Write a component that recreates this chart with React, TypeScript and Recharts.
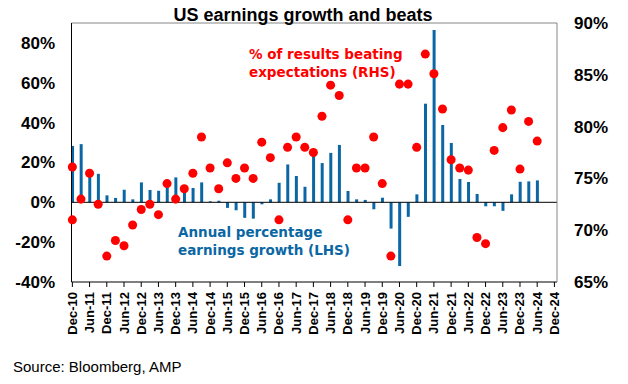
import React from "react";
import { ComposedChart, Bar, Scatter, XAxis, YAxis, ReferenceLine } from "recharts";

// quarterly reporting periods, Dec-10 .. Jun-24
const quarters = [
  "Dec-10", "Mar-11", "Jun-11", "Sep-11", "Dec-11", "Mar-12", "Jun-12", "Sep-12",
  "Dec-12", "Mar-13", "Jun-13", "Sep-13", "Dec-13", "Mar-14", "Jun-14", "Sep-14",
  "Dec-14", "Mar-15", "Jun-15", "Sep-15", "Dec-15", "Mar-16", "Jun-16", "Sep-16",
  "Dec-16", "Mar-17", "Jun-17", "Sep-17", "Dec-17", "Mar-18", "Jun-18", "Sep-18",
  "Dec-18", "Mar-19", "Jun-19", "Sep-19", "Dec-19", "Mar-20", "Jun-20", "Sep-20",
  "Dec-20", "Mar-21", "Jun-21", "Sep-21", "Dec-21", "Mar-22", "Jun-22", "Sep-22",
  "Dec-22", "Mar-23", "Jun-23", "Sep-23", "Dec-23", "Mar-24", "Jun-24",
];

// annual % earnings growth (LHS)
const growth = [
  28.3, 29.2, 14.0, 14.3, 3.5, 2.2, 6.3, 1.5,
  10.0, 6.2, 5.8, 9.0, 12.5, 5.0, 7.2, 10.0,
  0.5, 0.8, -2.8, -4.0, -7.8, -8.2, -1.0, 1.5,
  9.8, 19.0, 13.2, 7.8, 24.0, 19.7, 24.8, 28.8,
  5.7, 1.5, 1.2, -3.5, 2.3, -13.2, -32.0, -7.3,
  4.0, 49.5, 86.5, 38.8, 29.8, 11.7, 10.2, 4.2,
  -2.0, -2.0, -4.3, 4.0, 10.3, 10.5, 11.0,
];

// % of results beating expectations (RHS)
const beatPct = [
  76.1, 73.0, 75.5, 72.5, 67.5, 69.0, 68.5, 70.5,
  72.0, 72.5, 71.5, 74.5, 73.0, 74.0, 75.5, 79.0,
  76.0, 74.0, 76.5, 75.0, 76.0, 75.0, 78.5, 77.0,
  71.0, 78.0, 79.0, 78.0, 77.5, 81.0, 84.0, 83.0,
  71.0, 76.0, 76.0, 79.0, 74.5, 67.5, 84.1, 84.1,
  78.0, 87.0, 85.1, 81.7, 76.8, 76.0, 75.8, 69.3,
  68.7, 77.7, 79.9, 81.6, 75.9, 80.5, 78.6,
];
// second reading plotted on the Dec-10 position
const beatExtraDec10 = [71.0];

const tickLabels = [
  "Dec-10", "Jun-11", "Dec-11", "Jun-12", "Dec-12", "Jun-13", "Dec-13", "Jun-14",
  "Dec-14", "Jun-15", "Dec-15", "Jun-16", "Dec-16", "Jun-17", "Dec-17", "Jun-18",
  "Dec-18", "Jun-19", "Dec-19", "Jun-20", "Dec-20", "Jun-21", "Dec-21", "Jun-22",
  "Dec-22", "Jun-23", "Dec-23", "Jun-24", "Dec-24",
];
const leftTicks = [-40, -20, 0, 20, 40, 60, 80];
const rightTicks = [65, 70, 75, 80, 85, 90];

const FONT = "'Liberation Sans', Arial, sans-serif";
const NOTE_FONT = "'DejaVu Sans', Verdana, sans-serif";
const BAR = "#0b67a3";
const DOT = "#ff0000";

const barData = quarters.map((name, i) => ({ q: i, name, growth: growth[i] }));
const dotData = [
  ...beatExtraDec10.map((v) => ({ q: 0, beat: v })),
  ...beatPct.map((v, i) => ({ q: i, beat: v })),
];
const xTicks = tickLabels.map((_, i) => i * 2);

const XTick = (props: any) => {
  const { x, y, payload } = props;
  return (
    <text
      x={x}
      y={y}
      transform={`rotate(-90, ${x}, ${y})`}
      textAnchor="end"
      dominantBaseline="central"
      fontFamily={FONT}
      fontWeight={700}
      fontSize={13}
      fill="#000"
    >
      {tickLabels[Math.round(payload.value / 2)]}
    </text>
  );
};

const tickStyle = { fontSize: 17, fontWeight: 700, fill: "#000", fontFamily: FONT };

export default function App() {
  return (
    <div style={{ position: "absolute", left: 0, top: 0, width: 628, height: 384, background: "#fff" }}>
      <ComposedChart
        width={628}
        height={384}
        data={barData}
        margin={{ top: 23, right: 11, bottom: 42, left: 21.5 }}
      >
        <XAxis
          dataKey="q"
          type="number"
          domain={[-0.1, 56.3]}
          ticks={xTicks}
          interval={0}
          tick={<XTick />}
          tickSize={5}
          tickMargin={5}
          tickLine={{ stroke: "#000" }}
          axisLine={{ stroke: "#000" }}
          height={60}
        />
        <YAxis
          yAxisId="left"
          domain={[-40, 90]}
          ticks={leftTicks}
          tickFormatter={(v) => `${v}%`}
          tick={tickStyle}
          tickLine={false}
          tickSize={6}
          tickMargin={10.5}
          axisLine={{ stroke: "#000" }}
          width={50}
        />
        <YAxis
          yAxisId="right"
          orientation="right"
          domain={[65, 90]}
          ticks={rightTicks}
          tickFormatter={(v) => `${v}%`}
          tick={{ ...tickStyle, textAnchor: "start" }}
          tickLine={false}
          tickSize={6}
          tickMargin={11}
          axisLine={{ stroke: "#868686" }}
          width={60}
        />
        <ReferenceLine yAxisId="left" y={90} stroke="#868686" />
        <Bar yAxisId="left" dataKey="growth" fill={BAR} barSize={3} isAnimationActive={false} />
        <ReferenceLine yAxisId="left" y={0} stroke="#000" />
        <Scatter yAxisId="right" data={dotData} dataKey="beat" fill={DOT} isAnimationActive={false} />
      </ComposedChart>
      <svg
        width={628}
        height={384}
        style={{ position: "absolute", left: 0, top: 0, pointerEvents: "none" }}
      >
        <text x={303} y={21} textAnchor="middle" fontFamily={FONT} fontWeight={700} fontSize={18} fill="#000">
          US earnings growth and beats
        </text>
        <text fontFamily={NOTE_FONT} fontWeight={700} fontSize={13.5} fill={DOT}>
          <tspan x={249} y={59}>% of results beating</tspan>
          <tspan x={249} y={77}>expectations (RHS)</tspan>
        </text>
        <text fontFamily={NOTE_FONT} fontWeight={700} fontSize={13.5} fill={BAR}>
          <tspan x={178} y={237}>Annual percentage</tspan>
          <tspan x={178} y={254.5}>earnings growth (LHS)</tspan>
        </text>
        <text x={13} y={371.5} fontFamily={FONT} fontSize={15} fill="#000">
          Source: Bloomberg, AMP
        </text>
      </svg>
    </div>
  );
}
